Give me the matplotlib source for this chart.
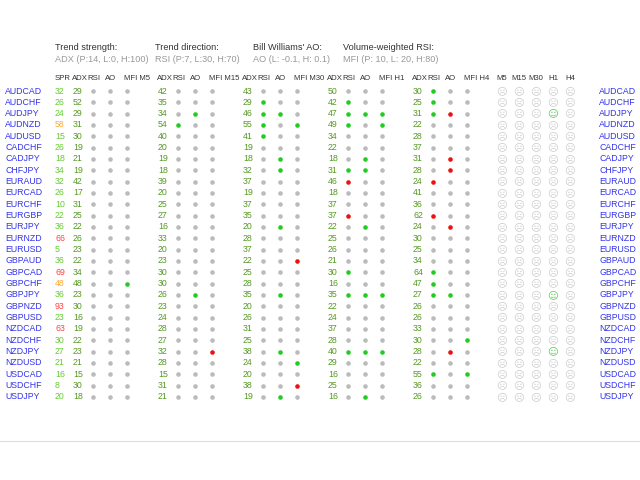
import matplotlib.pyplot as plt

plt.rcParams["font.family"] = "Liberation Sans"

pairs = ["AUDCAD", "AUDCHF", "AUDJPY", "AUDNZD", "AUDUSD", "CADCHF", "CADJPY",
         "CHFJPY", "EURAUD", "EURCAD", "EURCHF", "EURGBP", "EURJPY", "EURNZD",
         "EURUSD", "GBPAUD", "GBPCAD", "GBPCHF", "GBPJPY", "GBPNZD", "GBPUSD",
         "NZDCAD", "NZDCHF", "NZDJPY", "NZDUSD", "USDCAD", "USDCHF", "USDJPY"]
spread = [32, 26, 24, 58, 15, 26, 18, 34, 32, 26, 10, 22, 36, 66, 5, 36, 69, 48,
          36, 93, 23, 63, 30, 27, 21, 16, 8, 20]
timeframes = ["M5", "M15", "M30", "H1", "H4"]
adx = {
    "M5":  [29, 52, 29, 31, 30, 19, 21, 19, 42, 17, 31, 25, 22, 26, 23, 22, 34, 48, 23, 30, 16, 19, 22, 23, 21, 15, 30, 18],
    "M15": [42, 35, 34, 54, 40, 20, 19, 18, 39, 20, 25, 27, 16, 33, 20, 23, 30, 30, 26, 23, 24, 28, 27, 32, 28, 15, 31, 21],
    "M30": [43, 29, 46, 55, 41, 19, 18, 32, 37, 19, 37, 35, 20, 28, 37, 22, 25, 28, 35, 20, 26, 31, 25, 38, 24, 20, 38, 19],
    "H1":  [50, 42, 47, 49, 34, 22, 18, 31, 46, 18, 37, 37, 22, 25, 26, 21, 30, 16, 35, 22, 24, 37, 28, 40, 29, 16, 25, 16],
    "H4":  [30, 25, 31, 22, 28, 37, 31, 28, 24, 41, 36, 62, 24, 30, 25, 34, 64, 47, 27, 26, 26, 33, 30, 28, 22, 55, 36, 26],
}
# RSI / AO / MFI signal per row: "." neutral, "g" up, "r" down
signals = {
    "M5":  ["...", "...", "...", "...", "...", "...", "...", "...", "...", "...", "...", "...", "...", "...",
            "...", "...", "...", "..g", "...", "...", "...", "...", "...", "...", "...", "...", "...", "..."],
    "M15": ["...", "...", ".g.", "g..", "...", "...", "...", "...", "...", "...", "...", "...", "...", "...",
            "...", "...", "...", "...", ".g.", "...", "...", "...", "...", "..r", "...", "...", "...", "..."],
    "M30": ["...", "g..", "gg.", "g.g", "g..", "...", ".g.", ".g.", "...", "...", "...", "...", ".g.", "...",
            "...", "..r", "...", "...", ".g.", "...", "...", "...", "...", ".g.", "..g", "...", "..r", ".g."],
    "H1":  ["...", "g..", "ggg", "g.g", "...", "...", ".g.", "gg.", "r..", "...", "...", "r..", ".g.", "...",
            "...", "...", "g..", "...", "ggg", "...", "...", "...", "...", "ggg", "...", "...", "...", ".g."],
    "H4":  ["g..", "g..", "gr.", "...", "...", "...", ".r.", ".r.", "r..", "...", "...", "r..", ".r.", "...",
            "...", "...", "g..", "g..", "gg.", "...", "...", "...", "..g", ".r.", "...", "g.g", "...", "..."],
}
smile_h1 = ["AUDJPY", "GBPJPY", "NZDJPY"]

dot_col = {".": "#bbbbbb", "g": "#22cc22", "r": "#ee1111"}
blue = "#3333ee"
grey = "#999999"
fs = 6.3
hfs = 5.6

fig = plt.figure(figsize=(6.4, 4.8), dpi=100)
ax = fig.add_axes([0, 0, 1, 1])
ax.set_xlim(0, 640)
ax.set_ylim(480, 0)
ax.axis("off")

heads = [(55, "Trend strength:", "ADX (P:14, L:0, H:100)"),
         (155, "Trend direction:", "RSI (P:7, L:30, H:70)"),
         (253, "Bill Williams' AO:", "AO (L: -0.1, H: 0.1)"),
         (343, "Volume-weighted RSI:", "MFI (P: 10, L: 20, H:80)")]
for x, t1, t2 in heads:
    ax.text(x, 48, t1, fontsize=6.6, color="#333333", va="center")
    ax.text(x, 60, t2, fontsize=6.6, color=grey, va="center")

hy = 79
ax.text(55, hy, "SPR", fontsize=hfs, color="#333333", va="center")
tf_x0 = [75, 160, 245, 330, 415]
dx = [18, 35, 52]
for tf, x0 in zip(timeframes, tf_x0):
    ax.text(x0 - 3, hy, "ADX", fontsize=hfs, color="#333333", va="center")
    ax.text(x0 + dx[0] + 1, hy, "RSI", fontsize=hfs, color="#333333", va="center", ha="center")
    ax.text(x0 + dx[1] + 1, hy, "AO", fontsize=hfs, color="#333333", va="center", ha="center")
    ax.text(x0 + 49, hy, "MFI " + tf, fontsize=hfs, color="#333333", va="center")
sm_x = [502, 519, 536, 553, 570]
for tf, x in zip(timeframes, sm_x):
    ax.text(x, hy, tf, fontsize=hfs, color="#333333", va="center", ha="center")

for i, p in enumerate(pairs):
    y = 91 + i * 11.33
    ax.text(5, y, p, fontsize=fs, color=blue, va="center")
    ax.text(599, y, p, fontsize=fs, color=blue, va="center")
    s = spread[i]
    sc = "#ff4444" if s > 60 else ("#ffaa33" if s > 40 else "#66cc33")
    ax.text(55, y, str(s), fontsize=fs, color=sc, va="center")
    for tf, x0 in zip(timeframes, tf_x0):
        ax.text(x0 - 2, y, str(adx[tf][i]), fontsize=fs, color="#559922", va="center")
        for k, c in enumerate(signals[tf][i]):
            ax.plot(x0 + dx[k], y, "o", ms=3.3, color=dot_col[c], mec="none")
    for tf, x in zip(timeframes, sm_x):
        happy = tf == "H1" and p in smile_h1
        ax.text(x, y, "\u263a" if happy else "\u2639", fontsize=7.5, family="DejaVu Sans",
                color="#55cc55" if happy else "#cccccc", va="center", ha="center")

ax.plot([0, 640], [441, 441], color="#dddddd", lw=0.8)
fig.savefig("out.png")
